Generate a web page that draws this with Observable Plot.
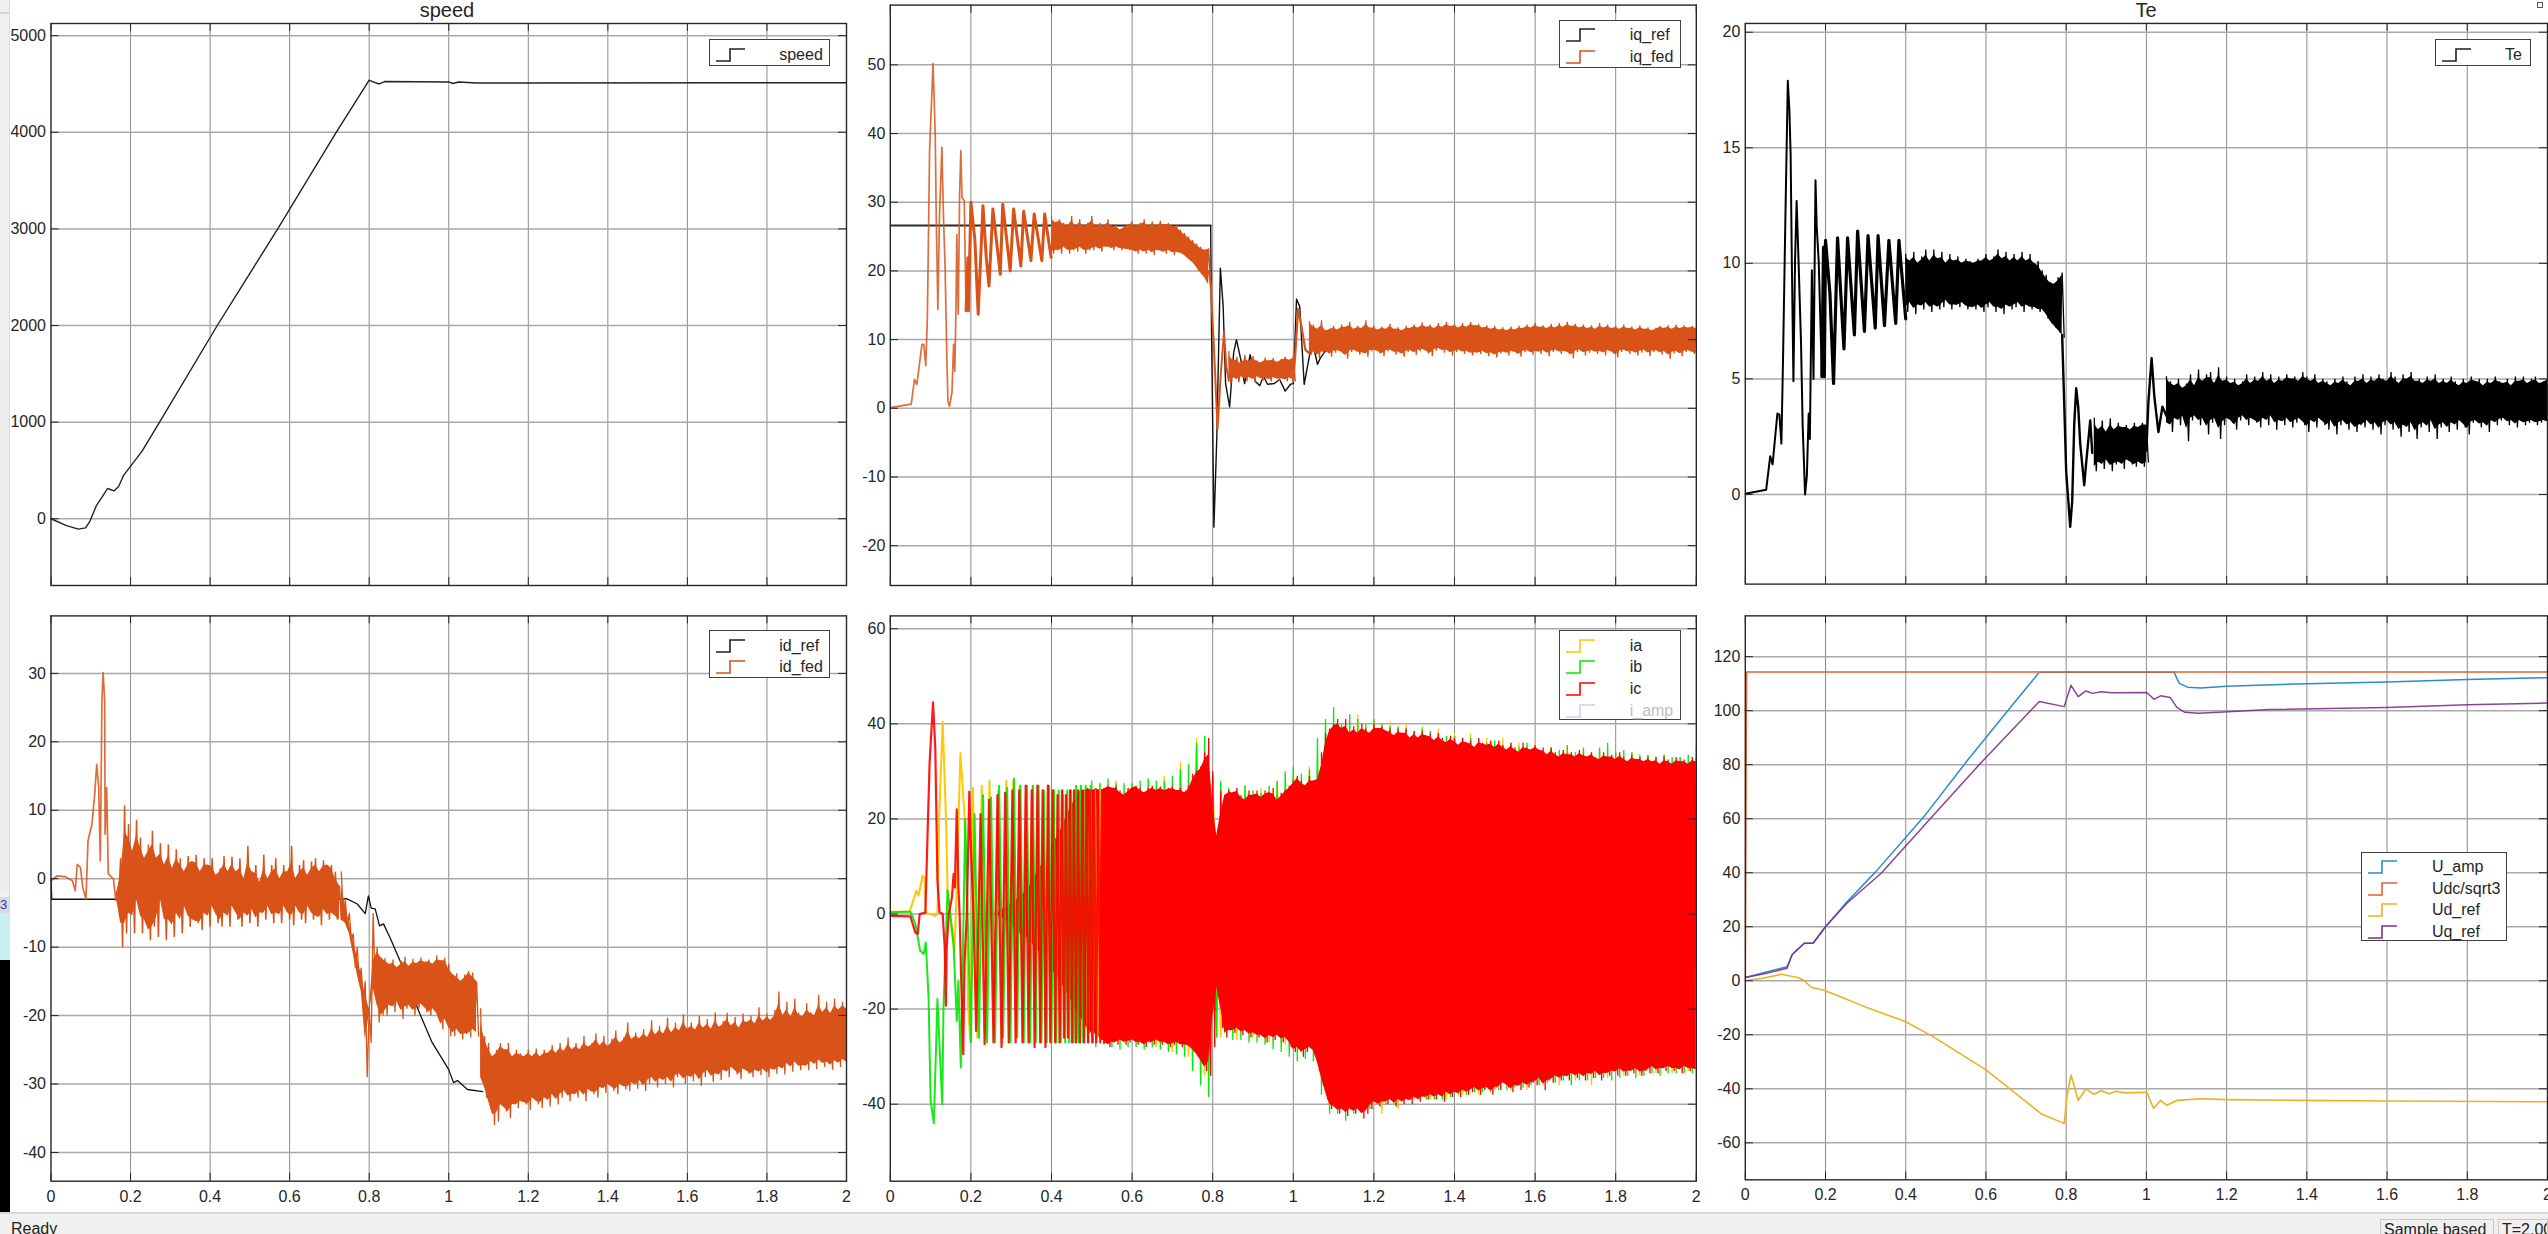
<!DOCTYPE html>
<html><head><meta charset="utf-8">
<style>
html,body{margin:0;padding:0;background:#fff;width:2548px;height:1234px;overflow:hidden;font-family:"Liberation Sans",Arial,sans-serif;color:#262626}
#stage{position:relative;width:2548px;height:1234px;overflow:hidden}
.abs{position:absolute}
.p{position:absolute}
.p svg{overflow:visible;display:block;background:transparent}
.lg{position:absolute;background:#fff;border:1.5px solid #404040;box-sizing:border-box}
.lg div{position:absolute;font-size:16px;line-height:18px;white-space:nowrap}
.lg svg{position:absolute;overflow:visible}
.title{position:absolute;font-size:20px;line-height:20px;transform:translateX(-50%);white-space:nowrap}
</style>
<script src="https://cdn.jsdelivr.net/npm/d3@7"></script>
<script src="https://cdn.jsdelivr.net/npm/@observablehq/plot@0.6"></script>
</head><body><div id="stage"></div>
<script>
// ---------- tick labels ----------
const xTicks=[0,0.2,0.4,0.6,0.8,1,1.2,1.4,1.6,1.8,2];
const speedTicks=[0,1000,2000,3000,4000,5000];
const iqTicks=[-20,-10,0,10,20,30,40,50];
const teTicks=[0,5,10,15,20];
const idTicks=[-40,-30,-20,-10,0,10,20,30];
const abcTicks=[-40,-20,0,20,40,60];
const uTicks=[-60,-40,-20,0,20,40,60,80,100,120];

// ---------- speed ----------
const speed=[[0,0],[.039,-71],[.069,-107],[.087,-95],[.098,-24],[.114,135],[.128,222],[.142,313],[.159,289],[.17,333],[.183,452],[.229,700],[.273,1000],[.418,2000],[.57,3000],[.717,4000],[.8,4540],[.808,4525],[.825,4500],[.839,4525],[1,4521],[1.01,4505],[1.025,4521],[1.07,4510],[2,4513]];

// ---------- iq ----------
const iqRefFlat=[[0,26.6],[.795,26.6]];
const iqRefTail=[[.795,26.6],[.797,12],[.803,-17.3],[.81,-4.7],[.819,20.4],[.826,14.8],[.832,3.6],[.842,.2],[.852,8.1],[.859,10],[.87,7],[.879,3.6],[.893,7.8],[.906,3.9],[.917,3.3],[.926,4.7],[.936,3.5],[.953,3.6],[.966,4.2],[.98,2.5],[.993,3.5],[1,3.6],[1.008,15.9],[1.016,14.8],[1.027,3.5],[1.047,9.8],[1.06,6.4],[1.067,7.3],[1.1,10],[2,10]];
const iqFedEarly=[[0,.1],[.052,.6],[.06,4.2],[.066,3.5],[.0785,9.3],[.083,9.3],[.088,6.2],[.092,13.2],[.0975,37.5],[.106,50.2],[.109,44.8],[.1116,39.4],[.114,27.8],[.118,14.4],[.122,27.8],[.128,38],[.132,27.8],[.136,20.5],[.14,8.3],[.143,1],[.147,.3],[.153,2.3],[.157,9.3],[.16,5.4],[.163,14.6],[.165,25.3],[.1686,13.7],[.172,31.2],[.175,37.5],[.178,30.7],[.1835,30.2],[.188,14.2]];
const iqFedRing=[[.188,14.2],[.1926,21.9],[.194,14.2],[.2,30],[.21,24.4],[.218,13.7],[.23,29.5],[.238,22],[.245,17.8],[.2545,29],[.273,19.5],[.279,29.7],[.2975,20],[.306,29],[.324,20.7],[.331,28.7],[.349,21.5],[.357,28.3],[.376,21.5],[.383,28.3],[.399,22]];
const iqHiA=[28,27,27.5,27,26.5,28,26.5,27.5,26.5,27,28,26.5,27,26.5,27.5,26.5,26.8,26,26.5,26.8,27.3,26.5,27,27.5,26.5,27.2,26.5,27.3,26.7,27,26.5,26.8,26,25.5,25,24.5,24,23.5,23,23.3];
const iqLoA=[22.5,23,22.5,23.5,22.5,23,22.8,23.5,22.5,23,23,23.5,22.8,23.5,23.5,23,23.5,23,23.2,23,23,22.5,23,22.5,23,22.3,23,22.8,22.5,23,22.3,22.7,22.5,22,21.5,21,20,19.5,18.5,17.5];
const iqFedDrop=[[.79,20],[.795,18],[.803,9],[.812,-3],[.82,5],[.828,11],[.834,6],[.84,4]];
const iqHiB=[8.3,7,7.5,6.5,7.8,6.8,7.6,7,6.6,7.4,6.9,7.3,6.7,7.2,7.5,7,7.6];
const iqLoB=[3.5,4.5,3.8,4.6,3.9,4.5,3.8,4.6,4,4.4,3.9,4.5,4,4.3,3.9,4.4,4];
const iqFedJump=[[1,4],[1.005,8],[1.012,14.5],[1.02,12],[1.03,8.5],[1.04,8]];
const iqHiC=[12.6,12.2,11.5,12.8,11.3,11.6,12,11.4,12.2,11.8,12.6,11.5,12,11.6,12.8,11.7,12,11.4,11.9,11.5,12.3,11.5,11.8,11.3,12,11.6,12.2,11.7,12.5,11.8,12.2,11.6,12.4,11.8,12.6,11.9,12.3,11.7,12.4,11.8,12.6,12,12.3,11.7,12.1,11.5,12,11.4,11.8,11.3,11.9,11.4,12,11.6,12.2,11.7,12.4,11.8,12.1,11.6,12.3,11.7,12.4,11.8,12.6,11.9,12.3,11.7,12.2,11.6,12.1,11.5,12.4,11.7,12.2,11.6,12,11.5,12.2,11.6,11.9,11.4,12.1,11.5,11.8,11.3,11.7,12,11.6,12.1,11.5,12.2,11.6,12.1,11.7,12,11.6];
const iqLoC=[7.8,8.2,7.3,8,8.3,7.5,8.1,8.4,7.9,7.2,8.2,8.5,7.8,8.1,7.5,8.3,8.5,8,7.6,8.3,8.5,7.8,8.2,7.5,8.2,8.4,7.8,8.3,8.6,8,7.6,8.4,8.7,8.1,8.5,7.7,8.2,8.5,7.9,8.3,7.7,8.1,7.9,8.3,7.6,8.1,7.4,8,8.2,7.7,8.3,8,7.5,8.2,8.4,7.8,8.3,7.9,8.4,7.6,8.2,8.5,7.9,8.3,8,7.3,8.2,8.5,7.7,8.1,8.4,7.9,8.3,7.7,8.4,8,7.4,8.2,8.5,7.9,8.3,7.7,8.1,8.5,7.6,8.2,8.4,7.8,8.3,7.2,8,8.3,7.6,8.2,8.4,7.9,8];

// ---------- Te ----------
const teEarly=[[0,.03],[.052,.2],[.062,1.65],[.068,1.3],[.08,3.5],[.085,3.45],[.09,2.2],[.094,5.8],[.0996,11.6],[.106,17.9],[.11,16.6],[.113,14.7],[.116,10.1],[.12,4.9],[.124,10.1],[.128,12.7],[.134,9.4],[.139,6.5],[.143,3],[.149,0],[.1535,.8],[.158,3.5],[.161,2.4],[.166,9.7],[.17,5],[.175,13.6],[.178,11.6],[.183,10.1],[.191,5.1]];
const teRing=[[.191,5.1],[.195,10.7],[.197,5.1],[.2,11],[.211,8.7],[.22,4.8],[.23,11.1],[.238,8.7],[.246,6.3],[.255,11.1],[.272,6.9],[.28,11.4],[.297,7.05],[.306,11.2],[.324,7.2],[.331,11.2],[.347,7.3],[.358,11],[.375,7.4],[.383,11],[.4,7.6]];
const teHiA=[10.4,10.1,10.5,10,10.3,10.6,10.1,10.6,10.2,10.5,10,10.4,10.1,10.3,10,10.2,10.1,10,10.2,10.1,10.4,10.1,10.3,10.6,10.2,10.5,10.1,10.4,10.1,10.5,10.1,10.4,10,10.1,9.7,9.5,9.2,9.1,9.4,9.6];
const teLoA=[7.9,8.3,7.8,8.2,8,8.3,7.9,8.2,8,8.1,8.4,8,8.2,8.1,8.3,8,8.1,8,8.2,7.9,8.1,8.3,7.9,8.1,7.8,8.2,8,8.1,8.3,7.9,8.2,8,8.1,7.9,8,7.6,7.4,7.2,7,6.8];
const teDrop=[[.79,6.9],[.795,4],[.8,1],[.81,-1.4],[.815,-.3],[.82,3],[.825,4.6],[.83,3.8],[.835,2.2],[.845,.4],[.85,1.4],[.86,3.2],[.865,1.8]];
const teHiB=[3.3,2.8,3.2,2.7,3.3,2.8,3.1,2.9,3,2.8,3.1,2.9,3.1,3];
const teLoB=[1,1.4,1.1,1.5,1,1.3,1.4,1.1,1.5,1.3,1.2,1.4,1.2,1.4];
const teJump=[[1,1.9],[1.005,4],[1.013,5.9],[1.02,4.2],[1.03,2.7],[1.04,3.8],[1.05,3.4]];
const teHiC=[5.1,4.9,4.7,5,4.6,4.8,5.2,4.7,5.4,4.9,5.2,5.3,4.8,5.5,4.9,5.1,4.8,5,4.7,4.9,5.2,4.8,5.1,4.9,5.3,4.9,5.2,4.8,5.1,4.9,5.2,5,5.1,4.9,5.3,5.1,4.9,5.2,4.8,5,4.9,4.7,5,4.8,5.1,4.9,4.7,5.1,4.9,5.2,4.8,5.1,4.9,5.2,5,4.9,5.3,5.1,4.8,5.2,5,5.3,4.9,5,4.8,5.1,4.9,5.2,4.8,5,4.8,5.1,4.9,4.7,5,4.8,5.1,4.9,5,4.7,5,4.8,5.1,4.9,4.8,5,4.7,5.1,4.9,5.1,4.8,5,5.1,4.8,4.9,5];
const teLoC=[3.1,2.7,3.3,3,3.4,2.3,3.2,3.4,3,3.3,2.6,3.1,3.3,2.4,3,3.3,3.1,2.8,3.2,3.4,3,3.3,3.1,2.9,3.3,3,3.4,2.8,3.2,3,3.3,2.9,3.1,3.3,3,2.7,3.2,2.9,3.3,3,2.8,3.2,2.6,3,3.2,2.8,3.1,2.7,3,2.9,3.2,2.8,3.1,2.6,3,3.2,2.8,3.1,2.5,3,2.7,3.1,2.4,2.9,3.1,2.7,3.2,2.4,2.9,3.1,2.7,3.1,2.8,3.2,2.9,2.6,3.1,3.2,2.9,3.1,2.7,3.2,3,3.2,3.3,3,3.2,2.9,3.2,3,3.1,3.2,3,3.1,3.2,3.1];

// ---------- id ----------
const idRef=[[0,0],[.002,-3],[.73,-3],[.743,-2.9],[.77,-3.7],[.79,-5.1],[.798,-2.5],[.805,-4.3],[.815,-4.4],[.826,-6.9],[.836,-6.6],[.853,-8.7],[.888,-13.4],[.922,-19],[.957,-23.8],[1,-27.9],[1.012,-29.8],[1.022,-29.5],[1.047,-30.8],[1.085,-31.1]];
const idFedEarly=[[0,-.3],[.015,.4],[.036,.3],[.054,-.3],[.061,-1.75],[.066,2.1],[.074,1.65],[.08,-1.3],[.088,-3],[.093,5.5],[.103,8],[.11,12.4],[.115,16.7],[.12,13.3],[.124,2.6],[.128,26],[.131,30.1],[.135,26],[.136,6.5],[.14,13.3],[.144,.7],[.157,-.05],[.163,-3.2]];
const idHiA=[-2,3,10.7,8,4,8.6,6,3,5,7,3,5.2,2,5,1.5,4.3,3,1,3.3,2.5,3.5,1,3,2,3,.5,1.5,3.3,1,3.2,1,3,0,4.8,1,2,-.5,3.5,0,2,3,0,2,1,4.8,0,2,2.7,.5,2.5,3,1,2.7,2,2,1,-1];
const idLoA=[-3,-10,-8,-5,-8,-3,-8,-6,-9,-7,-8.5,-3,-9,-6,-8.5,-5,-8,-4,-7,-6,-6.5,-7.5,-5,-7,-4,-6.5,-7,-5,-7,-4,-6,-7,-5,-6.5,-4.5,-7,-5,-6,-4,-6.5,-5,-6.5,-4,-6,-6.8,-4,-6,-6.5,-4,-6,-5.5,-6.8,-4.5,-6,-5,-6,-6];
const idHiB=[1,-3,-5,-8,-10,-13,-15,-19,-5,-10,-11.5,-11.6,-12.5,-11.8,-13,-12,-11.4,-12.8,-11.7,-12.4,-11.5,-12.2,-11.8,-12.5,-11.2,-12,-11.6,-12.4,-14,-13.8,-15,-14,-13.5,-13.7,-15];
const idLoB=[-6,-7,-9,-13,-15,-18,-29,-24,-16,-21,-20,-20,-18.5,-19.5,-18,-20.5,-19,-18.5,-20,-19,-18.3,-19.5,-20,-19,-20.5,-22,-20.5,-23,-23,-22,-23.5,-22.7,-23.2,-22,-23];
const idHiC=[-19,-23,-24,-26,-25,-24,-25,-24,-26,-25,-25.5,-26,-25,-26,-24.8,-26,-25,-25.5,-24.3,-25.5,-24,-25.2,-23.2,-25,-24,-25,-23,-24.6,-24,-22.6,-24.4,-23,-24.5,-23.4,-22.2,-24,-23.2,-21,-23.5,-22.5,-23.4,-22,-23.2,-20.7,-22.8,-21.5,-22.7,-20.3,-22.5,-21,-22.2,-19.8,-22,-21,-22.1,-20,-21.8,-20.5,-22,-19.5,-21.7,-20.8,-19.6,-21.5,-20.2,-21.8,-19.7,-21,-20,-21.2,-18.8,-20.8,-19.7,-20.7,-19.2,-16.5,-20,-18,-20.2,-17.5,-19.6,-20.2,-18.2,-19.5,-20,-17,-19.5,-18,-19.7,-17.5,-19.2,-18,-19];
const idLoC=[-29,-32,-33,-36,-35.5,-33,-34,-35,-33,-33.5,-32.5,-33,-33.8,-32,-33,-33.5,-32,-33.3,-31.5,-33,-32,-31,-32.5,-31.5,-32,-31,-32.5,-30.8,-31.5,-32,-30.5,-31.3,-30,-31,-31.5,-30,-30.8,-31,-29.8,-30.7,-29.5,-31,-30,-29,-30.5,-29.2,-30,-29,-30.5,-29,-28.5,-30,-28.8,-29.6,-28.5,-30.3,-29,-28,-29.7,-28.5,-29.4,-28,-29,-27.5,-28.6,-29.3,-27.8,-28.5,-29,-28,-28.7,-27.8,-29,-27.8,-28.5,-27.5,-28.6,-27,-28.2,-26.8,-28,-27.3,-28,-26.7,-27.8,-26.5,-27.5,-26.8,-27.9,-26.6,-27.5,-26.4,-27.2];

// ---------- ia ib ic ----------
const iaLine=[[0,.5],[.048,.5],[.0645,4.9],[.07,3.9],[.08,8],[.085,7.7],[.088,.3],[.1116,-.4],[.117,0],[.1215,21],[.13,40.4],[.135,28],[.139,17.5],[.142,4.9],[.149,-1.4],[.159,-7.7],[.163,.7],[.174,33.8],[.179,27.4],[.184,21],[.19,.7],[.193,-19.6],[.199,-27],[.205,26.5],[.216,-26],[.227,27],[.238,-26],[.246,28],[.258,-26],[.268,26],[.278,-27],[.288,28],[.297,-26],[.305,28],[.313,-26],[.321,27],[.33,-27],[.338,26],[.346,-27],[.353,27],[.36,-26],[.367,26],[.374,-27],[.38,26],[.387,-27],[.393,26],[.399,-26],[.405,26],[.411,-26],[.417,25],[.422,-26],[.428,26],[.433,-26],[.438,25],[.443,-26],[.448,26],[.454,-26],[.46,26],[.466,-26],[.472,26],[.478,-26],[.484,26],[.49,-26],[.496,26],[.502,-26],[.508,26],[.514,-26],[.52,26]];
const ibLine=[[0,.35],[.05,.5],[.062,-2],[.074,-7.7],[.083,-8.4],[.088,-6],[.095,-17.5],[.1,-39.3],[.108,-44],[.1116,-33.7],[.117,-17.9],[.122,-27.4],[.129,-40],[.132,-19.6],[.142,5],[.149,0],[.157,-6.3],[.165,-22.5],[.169,-14],[.175,-32.3],[.179,-14],[.186,20],[.2,-27],[.209,21],[.22,-26],[.23,25],[.24,-27],[.25,24.5],[.26,-27],[.27,27],[.28,-26],[.29,26.5],[.298,-27],[.307,28.5],[.315,-26],[.323,27],[.331,-27],[.339,27],[.347,-27],[.354,27],[.361,-27],[.368,27],[.375,-27],[.381,26],[.388,-27],[.394,27],[.4,-27],[.406,26],[.412,-27],[.418,26],[.423,-27],[.429,25],[.434,-27],[.439,26],[.444,-27],[.449,26],[.455,-27],[.461,27],[.467,-27],[.473,27],[.479,-27],[.485,27],[.491,-27],[.497,27],[.503,-27]];
const icLine=[[0,-.4],[.05,-.5],[.062,-3.9],[.068,-4.2],[.073,0],[.087,.3],[.0925,17],[.0975,31.7],[.106,44.5],[.1116,35],[.117,7],[.122,.4],[.13,0],[.135,-7],[.138,-19.3],[.14,-7],[.145,0],[.153,3.5],[.157,8.4],[.16,5.6],[.165,22],[.169,5.6],[.172,0],[.176,-14],[.181,-29.5],[.184,-10.5],[.19,0],[.196,25.7],[.2,14],[.207,-1.4],[.213,-24.6],[.219,0],[.224,21],[.234,-27.4],[.245,24],[.256,-27],[.266,25],[.276,-28],[.285,25.5],[.294,-27],[.303,26],[.311,-27],[.32,26],[.328,-27],[.336,27],[.343,-27],[.351,26],[.358,-28],[.365,27],[.372,-27],[.378,26],[.385,-28],[.391,27],[.397,-27],[.403,26],[.409,-27],[.415,25],[.42,-27],[.426,26],[.431,-26],[.436,25],[.441,-26],[.446,26],[.451,-27],[.456,26],[.461,-27],[.466,26],[.471,-27],[.476,26],[.481,-27],[.486,26],[.491,-27],[.496,26],[.501,-27],[.506,26],[.511,-27],[.516,26],[.521,-27],[.526,26],[.531,-27],[.536,26],[.541,-27]];
const icCoreHi=[0,1,2,3.5,5,8,11];
const icCoreLo=[0,-1,-2,-4,-5,-7,-9];
const icHi=[14,16,18,20,22,23.5,25,26,26,26.5,
26,26.5,26,26.5,27,26.5,26.8,26,25,26.5,
26.5,27,26.5,25.5,26.5,27,26,26.8,26,26.5,
26.8,26,26.5,25.5,27,29.5,30,31,34,37,
30,16.5,26,25,26,25.5,26.5,25,24,26,
25,26,24.5,26,25.5,26.5,24,25.5,26,27,
28,29,28,27,29,28,28.5,34,38,39,
40,41,39,41,38,39.5,38,40,39,38,
40,39,39.5,38.5,39,37.5,39,38,39,37,
38.5,37,38.5,37.5,38,36.5,38,37,36,37.5,
37,35.5,37,36,36.5,35,37,36,35.5,36.5,
35,36.5,35.5,34.5,36,35,34,36,35,34.5,
35.5,34.5,35,33.5,35,34,33,34.5,33.5,34,
33,34.5,33.5,33,34,33,32.5,34,33,33.5,
32.5,34,33,32,33.5,32.5,33,32,33,32,
33,31.5,33,32.5,31.5,33,32,32.5,31.5,33,32];
const icLo=[-12,-13,-14.5,-16,-17.5,-19,-20.5,-22,-23.5,-25,
-25,-25.5,-26.5,-27,-28,-27,-27.5,-26.5,-27.5,-27,
-26.5,-27.5,-27,-28,-27,-27.5,-26.5,-27.5,-27,-28,
-27.5,-27,-28,-27.5,-28,-29,-30,-31.5,-33,-34,
-28,-15.5,-24,-26,-24.5,-25,-24,-25.5,-24.5,-26,
-25,-26,-25.5,-27,-25.5,-26.5,-25.5,-27,-26,-28,
-29,-28,-30,-29,-28,-29.5,-33,-36,-39,-41,
-40.5,-42,-41,-42.5,-41,-42,-41,-43,-42,-41,
-39.5,-40.5,-39.5,-40,-39,-40.5,-39,-40,-39,-40,
-38.5,-39.5,-38.5,-39,-38,-39,-38,-39.5,-37.5,-38.5,
-37.5,-38.5,-37,-38,-37.5,-36.5,-38,-37,-36.5,-38,
-36.5,-37,-35.5,-36.5,-37.5,-36,-37,-35.5,-36.5,-35.5,
-36,-34.5,-37,-35,-35.5,-34,-35,-34,-35,-33.5,
-34.5,-33.5,-35,-33.5,-34.5,-33,-35,-33.5,-34,-33,
-34,-32.5,-34,-33,-33.5,-32.5,-34,-33,-33.5,-32,
-33.5,-32.5,-33,-32,-33,-32.5,-33.5,-32,-33,-32.5,-33];
const ibHi=[28,27.5,28.5,27.5,27.5,27.5,28,28.5,28,28,29,30.5,31.5,36,37.5,
29,28,26.5,26,27,26,25.5,27,28,30,31,29.5,30.5,37,41,43.5,40,42,41,40,41,40,39.5,39.5,39,38.5,39,38.5,38,37.5,37.5,37,37,36.5,36,36.5,35.5,36,35,36,35,34.5,35,34.5,35.5,34,35,34,35,36,34,34.5,34,33.5,33.5,33,33.5,33,33,33.5,35.5];
const ibLo=[-28,-27.5,-28,-28.5,-28,-28,-28.5,-28,-28.5,-29,-29.5,-30,-33,-36,-38.5,
-26,-25,-26.5,-26.5,-27,-27,-27.5,-28.5,-29,-30,-31,-30.5,-31,-38,-42,-42,-43.5,-42,-41,-41,-40,-40,-40,-39.5,-39,-39,-39,-39,-39,-38.5,-38,-38,-37.5,-37.5,-37.5,-37,-37,-36.5,-36.5,-36,-36,-35.5,-35.5,-35,-36,-35,-35,-34.5,-34.5,-35,-34.5,-34,-34.5,-34,-33.5,-34,-33.5,-33.5,-33.5,-33.5,-33.5];
const iaHi=[27.5,28,27.5,27,29,32,37,29,26,27,26.5,28,29,31,30,36,42,41,40.5,40,39.5,39,38,38,37,37,36,36,35,35.5,34.5,34.5,34,34,33.5,33.5,33,33];
const iaLo=[-27,-27,-27,-28,-29,-30,-34,-26,-26.5,-26,-27,-27.5,-29,-31,-31,-33,-41,-42,-41,-39,-39,-39,-38,-38,-37,-37,-37,-36,-36,-35,-36,-34.5,-34,-34,-33.5,-33.5,-33,-33];

// ---------- voltages ----------
const uAmp=[[0,1.2],[.104,5.2],[.117,9.7],[.147,13.9],[.169,13.9],[.2,20],[.252,29],[.326,40.5],[.444,60.5],[.556,82],[.668,102.5],[.733,114.2],[1.069,114.2],[1.082,110.1],[1.103,108.7],[1.136,108.4],[1.2,109],[1.4,110],[1.6,110.6],[1.8,111.5],[2,112.2]];
const uDc=[[0,0],[.003,114.3],[2,114.3]];
const uD=[[0,0],[.043,.9],[.09,2.4],[.131,1.2],[.144,.4],[.165,-2.5],[.192,-3.3],[.225,-5.2],[.293,-9.3],[.4,-15.2],[.468,-20.7],[.6,-33],[.738,-49.3],[.795,-52.8],[.802,-42.8],[.812,-34.9],[.83,-44.3],[.849,-40],[.869,-42],[.887,-40.7],[.907,-41.8],[.924,-40.9],[.947,-41.5],[1.001,-41.3],[1.018,-47.3],[1.035,-44.3],[1.051,-46.1],[1.076,-44.3],[1.136,-43.7],[1.2,-44],[1.4,-44.3],[1.6,-44.5],[2,-44.8]];
const uQ=[[0,1.2],[.05,2.7],[.104,4.6],[.117,9.7],[.147,13.9],[.169,13.9],[.2,20],[.252,28.5],[.34,40],[.461,60],[.583,80],[.711,100],[.733,103.4],[.795,101.5],[.812,109.4],[.83,105.2],[.849,107.3],[.866,106.4],[.887,107],[.914,106.6],[1.001,106.7],[1.019,104.2],[1.035,105.5],[1.059,104.9],[1.076,101.2],[1.096,99.4],[1.13,99],[1.204,99.6],[1.305,100.4],[1.6,101.2],[1.8,102.2],[2,102.8]];

// ---------- colours ----------
const ORANGE="#d95319",BLACK="#111111";
const stage=document.getElementById("stage");

// helpers that turn the read arrays into rows for the marks
const band=(t0,hi,lo,dt=.01)=>hi.map((h,i)=>({t:t0+i*dt,hi:h,lo:lo[i]}));
const X=d=>d[0],Y=d=>d[1];
const ln=(data,stroke,strokeWidth=1.2,strokeOpacity=1)=>Plot.line(data,{x:X,y:Y,stroke,strokeWidth,strokeOpacity,clip:true});
// a noisy trace: a solid body between neighbouring peaks, and a line that swings between each read high and low
function noisy(rows,color,{win=1,width=1.3,core=true}={}){
  const dt=rows[1].t-rows[0].t;
  const swing=rows.flatMap(r=>[[r.t,r.hi],[r.t+dt/2,r.lo]]);
  const body=rows.map((r,i)=>{
    const n=rows.slice(Math.max(0,i-win),i+win+1);
    const a=(d3.min(n,d=>d.hi)+r.hi)/2,b=(d3.max(n,d=>d.lo)+r.lo)/2;
    return {t:r.t,hi:a,lo:Math.min(a,b)};
  });
  return [
    ...(core?[Plot.areaY(body,{x:"t",y1:"lo",y2:"hi",fill:color,clip:true})]:[]),
    Plot.line(swing,{x:X,y:Y,stroke:color,strokeWidth:width,strokeLinejoin:"miter",clip:true})
  ];
}

function panel(o){
  const xd=[0,2];
  const tickLenY=.02, tickLenX=(o.yd[1]-o.yd[0])*.014;
  const marks=[
    Plot.gridX(xTicks.slice(1,-1),{x:d=>d,stroke:"#8c8c8c",strokeOpacity:1,strokeWidth:1}),
    Plot.gridY(o.yt,{y:d=>d,stroke:"#a9a9a9",strokeOpacity:1,strokeWidth:1.5}),
    ...o.marks,
    Plot.ruleY(o.yt,{y:d=>d,x1:0,x2:tickLenY,stroke:"#262626",strokeWidth:1}),
    Plot.ruleY(o.yt,{y:d=>d,x1:2-tickLenY,x2:2,stroke:"#262626",strokeWidth:1}),
    Plot.ruleX(xTicks,{x:d=>d,y1:o.yd[0],y2:o.yd[0]+tickLenX,stroke:"#262626",strokeWidth:1}),
    Plot.ruleX(xTicks,{x:d=>d,y1:o.yd[1]-tickLenX,y2:o.yd[1],stroke:"#262626",strokeWidth:1}),
    Plot.frame({stroke:"#262626",strokeWidth:1.4}),
    Plot.axisY(o.yt,{tickSize:0,tickPadding:5,tickFormat:d=>String(d),label:null,fill:"#262626"})
  ];
  if(o.labels) marks.push(Plot.axisX(xTicks,{tickSize:0,tickPadding:9,tickFormat:d=>String(d),label:null,fill:"#262626"}));
  const svg=Plot.plot({
    width:o.w,height:o.h,marginLeft:o.ml,marginRight:o.mr,marginTop:o.mt,marginBottom:o.mb,
    x:{domain:xd,axis:null},y:{domain:o.yd,axis:null},
    style:{fontFamily:'"Liberation Sans",Arial,sans-serif',fontSize:"16px",background:"transparent",color:"#262626",overflow:"visible"},
    marks
  });
  const d=document.createElement("div");d.className="p";
  d.style.left=o.l+"px";d.style.top=o.t+"px";d.appendChild(svg);stage.appendChild(d);
}
function legend(x,y,w,h,items){
  const b=document.createElement("div");b.className="lg";
  Object.assign(b.style,{left:x+"px",top:y+"px",width:w+"px",height:h+"px"});
  items.forEach((it,i)=>{
    const cy=15.5+21.6*i;
    const s=document.createElementNS("http://www.w3.org/2000/svg","svg");
    s.setAttribute("width",30);s.setAttribute("height",14);
    Object.assign(s.style,{left:"6px",top:(cy-8)+"px"});
    const p=document.createElementNS("http://www.w3.org/2000/svg","path");
    p.setAttribute("d","M0 13H14V1H29");p.setAttribute("fill","none");p.setAttribute("stroke",it.c);p.setAttribute("stroke-width","1.6");
    s.appendChild(p);b.appendChild(s);
    const t=document.createElement("div");t.textContent=it.n;
    Object.assign(t.style,{left:"69.5px",top:(cy-10)+"px",color:it.tc||"#262626"});
    b.appendChild(t);
  });
  stage.appendChild(b);
}
function box(x,y,w,h,bg,extra){const d=document.createElement("div");d.className="abs";Object.assign(d.style,{left:x+"px",top:y+"px",width:w+"px",height:h+"px",background:bg},extra||{});stage.appendChild(d);return d;}

// ---------- left window remnants ----------
box(0,0,10,897,"#f0f0f0");
box(0,12,10,2,"#d4d4d4");
box(0,360,10,530,"#ededed");
box(9,0,1,897,"#dddddd");
const b3=box(0,897,10,16,"#d9d9e2",{fontSize:"13px",color:"#3a3a9a",lineHeight:"16px",overflow:"hidden"});b3.textContent="3";
box(0,913,10,47,"#c8eef0");
box(0,960,10,253,"#000000");

// ---------- panels ----------
const C1={l:0,w:860,ml:50.5,mr:14};
const C2={l:850,w:860,ml:39.8,mr:14.2};
const C3={l:1700,w:850,ml:44.9,mr:1};
const TOP=(mt)=>({t:0,h:600,mt,mb:15});
const BOT={t:600,h:612,mt:15.4,mb:31.3};

panel({...C1,...TOP(23),yd:[-691,5126],yt:speedTicks,marks:[ln(speed,"#222",1.4)]});

panel({...C2,...TOP(4.6),yd:[-25.8,58.7],yt:iqTicks,marks:[
  ln(iqRefFlat,"#2b2b2b",2),ln(iqRefTail,BLACK,1.4),
  ln(iqFedEarly,ORANGE,1.7,.85),ln(iqFedRing,ORANGE,3),...noisy(band(.4,iqHiA,iqLoA),ORANGE),ln(iqFedDrop,ORANGE,2),
  ...noisy(band(.84,iqHiB,iqLoB),ORANGE),ln(iqFedJump,ORANGE,2.2),...noisy(band(1.04,iqHiC,iqLoC),ORANGE)
]});

panel({...C3,...TOP(23),yd:[-3.88,20.38],yt:teTicks,marks:[
  ln(teEarly,"#000",2),ln(teRing,"#000",3.2),...noisy(band(.4,teHiA,teLoA),"#000"),ln(teDrop,"#000",2.4),
  ...noisy(band(.87,teHiB,teLoB),"#000"),ln(teJump,"#000",2.4),...noisy(band(1.05,teHiC,teLoC),"#000")
]});

panel({...C1,...BOT,labels:true,yd:[-44.2,38.4],yt:idTicks,marks:[
  ln(idRef,BLACK,1.3),
  ln(idFedEarly,ORANGE,1.7,.85),...noisy(band(.165,idHiA,idLoA),ORANGE,{width:1.5}),
  ...noisy(band(.73,idHiB,idLoB),ORANGE),...noisy(band(1.08,idHiC,idLoC),ORANGE)
]});

panel({...C2,...BOT,labels:true,yd:[-56.2,62.7],yt:abcTicks,marks:[
  ...noisy(band(.52,iaHi,iaLo,.04),"#ffc800",{core:false}),
  ...noisy(band(.5,ibHi,ibLo,.02),"#00ee00",{core:false}),
  ...noisy(band(.26,icCoreHi,icCoreLo,.02),"#ff0000",{win:0}),
  ...noisy(band(.4,icHi,icLo),"#ff0000"),
  ln(iaLine,"#ffc800",2),ln(ibLine,"#00e600",2,.9),ln(icLine,"#ff0000",2.2,.9)
]});

panel({...C3,...BOT,labels:true,yd:[-73.7,135.1],yt:uTicks,marks:[
  ln(uAmp,"#2a8ccc",1.5),ln(uDc,"#e8602c",1.6),ln(uD,"#edb120",1.6),ln(uQ,"#7e2f8e",1.5,.9)
]});

// ---------- titles ----------
[["speed",447,0],["Te",2146,0]].forEach(([s,x,y])=>{const t=document.createElement("div");t.className="title";t.textContent=s;t.style.left=x+"px";t.style.top=y+"px";stage.appendChild(t);});

// ---------- legends ----------
legend(708.7,39,121.8,26.8,[{n:"speed",c:"#222"}]);
legend(1559.2,19.9,121.4,48.2,[{n:"iq_ref",c:"#222"},{n:"iq_fed",c:ORANGE}]);
legend(2434.5,39,96.8,26.8,[{n:"Te",c:"#222"}]);
legend(708.7,630.3,121.8,47.3,[{n:"id_ref",c:"#222"},{n:"id_fed",c:ORANGE}]);
legend(1559.2,630.3,121.4,89.4,[{n:"ia",c:"#ffc800"},{n:"ib",c:"#00ee00"},{n:"ic",c:"#ff0000"},{n:"i_amp",c:"#dcc8e6",tc:"#bdbdbd"}]);
legend(2361.4,851.5,145.5,89,[{n:"U_amp",c:"#2a8ccc"},{n:"Udc/sqrt3",c:"#e8602c"},{n:"Ud_ref",c:"#edb120"},{n:"Uq_ref",c:"#7e2f8e"}]);

// ---------- status bar ----------
box(0,1212,2548,2,"#d9d9d9");
box(0,1214,2548,20,"#f0f0f0");
const sb=(txt,x,w,border)=>{const d=box(x,1219,w,20,"#f0f0f0",{fontSize:"16px",lineHeight:"20px",whiteSpace:"nowrap",overflow:"hidden",paddingLeft:"3px",boxSizing:"border-box",color:"#222"});if(border){d.style.border="1px solid #c8c8c8";d.style.borderBottom="none";}d.textContent=txt;};
sb("Ready",8,80,false);
sb("Sample based",2380,114,true);
sb("T=2.00",2498,50,true);
box(2537,2,6,6,"transparent",{border:"1px solid #555",boxSizing:"border-box"});
</script>
</body></html>
